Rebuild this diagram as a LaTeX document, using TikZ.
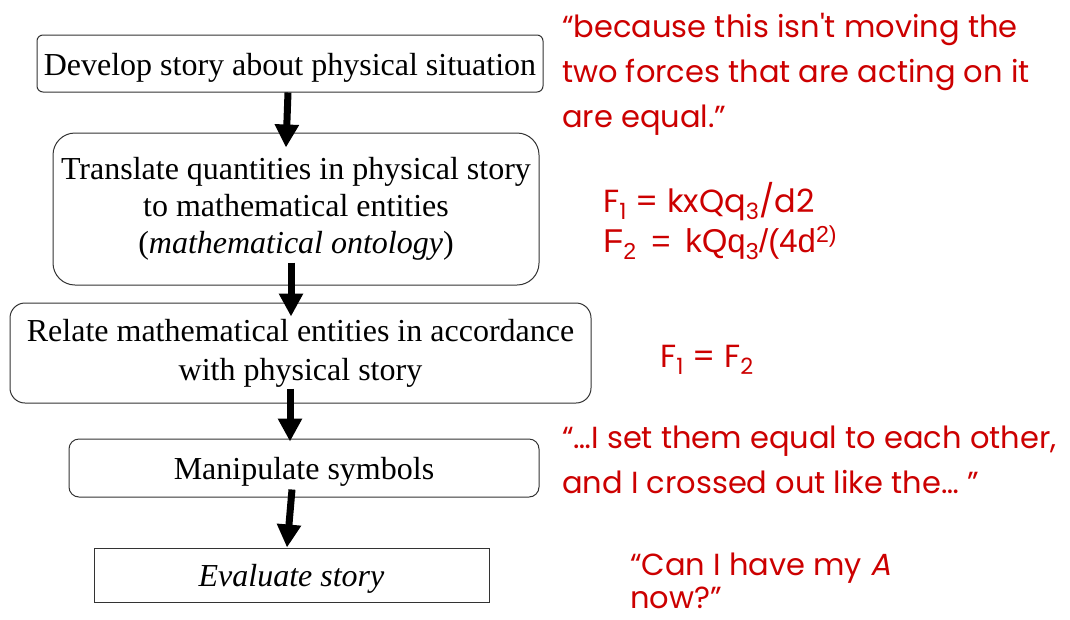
\documentclass[tikz,border=0pt]{standalone}
\usepackage{fontspec}
\setmainfont{Liberation Serif}
\newfontfamily\comic{Poppins}
\newfontfamily\comicsl[FakeSlant=0.2]{Poppins}
\newfontfamily\eqfont{Liberation Sans}
\usetikzlibrary{arrows.meta,calc}
\definecolor{quotered}{RGB}{204,0,0}
\begin{document}
\begin{tikzpicture}[x=1pt,y=-1pt,
  stepbox/.style={draw=black!80,line width=1pt,inner sep=0pt,align=center,
    font=\fontsize{32}{37}\selectfont},
  oneline/.style={text height=23pt,text depth=0pt},
  flowarrow/.style={line width=7pt,-{Triangle[width=23pt,length=23pt]}},
  redtext/.style={text=quotered,inner sep=0pt,anchor=base west,
    font=\comic\fontsize{30.5}{45}\selectfont},
  eqtext/.style={text=quotered,inner sep=0pt,anchor=base west,
    font=\comic\fontsize{32}{36}\selectfont}
]
\useasboundingbox (0,0) rectangle (1070,619);

\node[stepbox,oneline,rounded corners=6pt,minimum width=506pt,minimum height=57pt] (b1) at (290,63.5)
  {Develop story about physical situation};
\node[stepbox,rounded corners=22pt,minimum width=486pt,minimum height=152pt] (b2) at (296,209)
  {Translate quantities in physical story\\to mathematical entities\\(\textit{mathematical ontology})};
\node[stepbox,rounded corners=15pt,minimum width=581pt,minimum height=100pt,
  font=\fontsize{32}{39}\selectfont] (b3) at (300.5,353)
  {Relate mathematical entities in accordance\\with physical story};
\node[stepbox,oneline,rounded corners=10pt,minimum width=470pt,minimum height=58pt] (b4) at (304,468)
  {Manipulate symbols};
\node[stepbox,oneline,minimum width=395pt,minimum height=54pt] (b5) at (291.5,575)
  {\textit{Evaluate story}};

\draw[flowarrow] ($(b1.south)+(-2,0)$) -- ($(b2.north)+(-10,15)$);
\draw[flowarrow] ($(b2.south)+(-5,-23)$) -- ($(b3.north)+(-9.5,14)$);
\draw[flowarrow] ($(b3.south)+(-10.5,-15)$) -- ($(b4.north)+(-14,3)$);
\draw[flowarrow] ($(b4.south)+(-12,-8)$) -- ($(b5.north)+(-4.5,0)$);

\node[redtext] (q1a) at (562,37) {“because this isn\textquotesingle t moving the};
\node[redtext] (q1b) at (562,82) {two forces that are acting on it};
\node[redtext] (q1c) at (562,127) {are equal.”};

\node[eqtext] (e1) at (603,212) {F\textsubscript{1} = kxQq\textsubscript{3}/d2};
\node[eqtext,font=\eqfont\fontsize{33}{36}\selectfont] (e2) at (603,252)
  {F\textsubscript{2}\ \,=\ \,kQq\textsubscript{3}/(4d\textsuperscript{2)}};
\node[eqtext] (e3) at (660,367) {F\textsubscript{1} = F\textsubscript{2}};

\node[redtext] (q3a) at (562,448) {“…I set them equal to each other,};
\node[redtext] (q3b) at (562,493) {and I crossed out like the… ”};

\node[redtext] (q4a) at (630,575) {“Can I have my {\comicsl A}};
\node[redtext] (q4b) at (630,608) {now?”};
\end{tikzpicture}
\end{document}
